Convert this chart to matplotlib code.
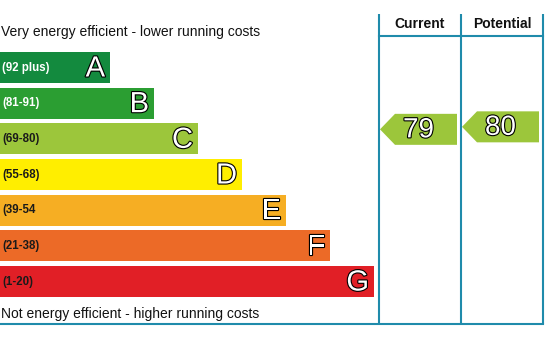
import matplotlib
matplotlib.use("Agg")
import matplotlib.pyplot as plt
from matplotlib.patches import Polygon
import matplotlib.patheffects as pe

plt.rcParams['font.family'] = ['Liberation Sans', 'DejaVu Sans']

# EPC bands, top (most efficient) to bottom
bands = ["A", "B", "C", "D", "E", "F", "G"]
ranges = ["(92 plus)", "(81-91)", "(69-80)", "(55-68)", "(39-54", "(21-38)", "(1-20)"]
band_low = [92, 81, 69, 55, 39, 21, 1]
band_high = [100, 91, 80, 68, 54, 38, 20]
colors = ["#138a3e", "#2b9e32", "#9cc63b", "#ffee00", "#f6ae23", "#ec6a27", "#e11f26"]
range_text_colors = ["white", "white", "#1a1a1a", "#1a1a1a", "#1a1a1a", "#1a1a1a", "#1a1a1a"]

current = 79
potential = 80

line_color = "#1f8bab"

fig = plt.figure(figsize=(5.58, 3.37), dpi=100)
ax = fig.add_axes([0, 0, 1, 1])
ax.set_xlim(0, 558)
ax.set_ylim(337, 0)
ax.axis("off")

# band bars: staircase widths
first_center, pitch, bar_h = 67.5, 35.67, 31
centers = [first_center + i * pitch for i in range(len(bands))]
widths = [110 + i * 44 for i in range(len(bands))]
ax.barh(centers, widths, height=bar_h, left=0, color=colors, align="center")

outline = [pe.withStroke(linewidth=1.6, foreground="black")]
for yc, w, letter, rng, tc in zip(centers, widths, bands, ranges, range_text_colors):
    ax.text(2, yc, rng, ha="left", va="center", fontsize=8.3, fontweight="bold", color=tc)
    ax.text(w - 5, yc + 1, letter, ha="right", va="center", fontsize=21,
            color="white", path_effects=outline)

ax.text(1, 32, "Very energy efficient - lower running costs", ha="left", va="center",
        fontsize=10, color="#111111")
ax.text(1, 314, "Not energy efficient - higher running costs", ha="left", va="center",
        fontsize=10, color="#111111")

# rating columns
col_x = [379, 461, 543]
top_y, head_y, bottom_y = 14, 36, 324
for x in col_x:
    ax.plot([x, x], [top_y, bottom_y], color=line_color, lw=1.5, solid_capstyle="butt")
ax.plot([col_x[0], col_x[-1]], [head_y, head_y], color=line_color, lw=1.5)
ax.plot([0, col_x[-1]], [bottom_y, bottom_y], color=line_color, lw=1.5)

for x0, x1, label in zip(col_x[:-1], col_x[1:], ["Current", "Potential"]):
    ax.text((x0 + x1) / 2, 24.5, label, ha="center", va="center", fontsize=10,
            fontweight="bold", color="#111111")


def band_index(v):
    for i, (lo, hi) in enumerate(zip(band_low, band_high)):
        if lo <= v <= hi:
            return i
    return len(bands) - 1


def draw_arrow(value, x0, x1):
    i = band_index(value)
    bottom = centers[i] + bar_h / 2
    frac = (value - band_low[i]) / (band_high[i] - band_low[i])
    yc = bottom - frac * 27.5
    h = 31
    tip = x0 + 1
    right = x1 - 4
    pts = [(tip, yc), (tip + 15, yc - h / 2), (right, yc - h / 2),
           (right, yc + h / 2), (tip + 15, yc + h / 2)]
    ax.add_patch(Polygon(pts, closed=True, color=colors[i], lw=0))
    ax.text((tip + right) / 2, yc + 1, str(value), ha="center", va="center",
            fontsize=20, color="white", path_effects=outline)


draw_arrow(current, col_x[0], col_x[1])
draw_arrow(potential, col_x[1], col_x[2])

fig.savefig("out.png", dpi=100)
